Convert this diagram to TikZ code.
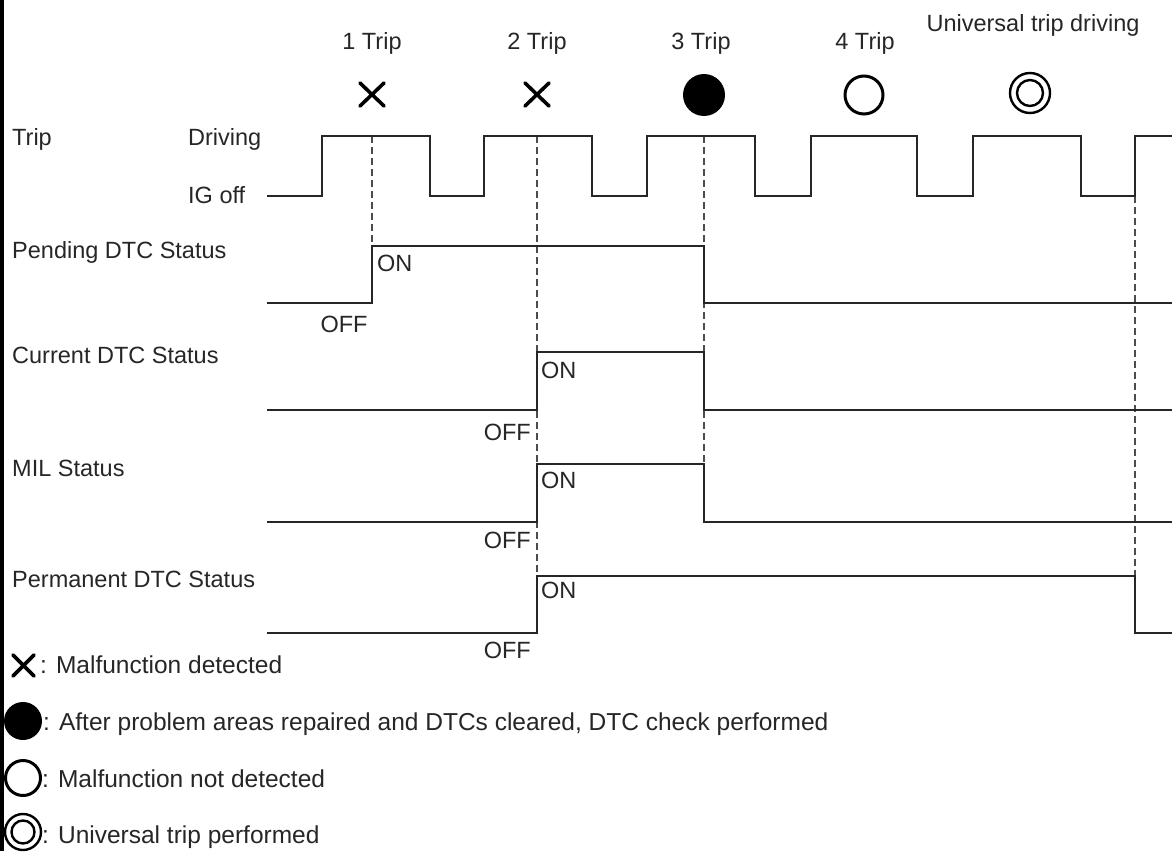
\documentclass[tikz,border=0pt]{standalone}
\usepackage{fontspec}
\setmainfont{Liberation Sans}
\begin{document}
\begin{tikzpicture}[x=1pt,y=-1pt,
  txt/.style={inner sep=0pt, font=\fontsize{23.5}{28}\selectfont, text=black!85},
  legtxt/.style={inner sep=0pt, font=\fontsize{24.5}{29}\selectfont, text=black!85},
  wave/.style={line width=2pt, draw=black!85, line join=miter},
  guide/.style={line width=1.6pt, draw=black!70, dash pattern=on 6.5pt off 4.5pt},
  sym/.style={line width=3.6pt, draw=black, line cap=round}]
\useasboundingbox (0,0) rectangle (1172,851);
\draw[line width=3.5pt] (1.75,0) -- (1.75,851);

% dashed guide lines
\draw[guide] (372,136) -- (372,246);
\draw[guide] (537,136) -- (537,576);
\draw[guide] (704,136) -- (704,521);
\draw[guide] (1135,196) -- (1135,576);

% trip waveform
\draw[wave] (267,196) -- (322,196) -- (322,136) -- (430,136) -- (430,196)
  -- (484,196) -- (484,136) -- (592,136) -- (592,196)
  -- (647,196) -- (647,136) -- (755,136) -- (755,196)
  -- (811,196) -- (811,136) -- (917,136) -- (917,196)
  -- (973,196) -- (973,136) -- (1081,136) -- (1081,196)
  -- (1135,196) -- (1135,136) -- (1172,136);

% status waveforms
\draw[wave] (267,303) -- (372,303) -- (372,246) -- (704,246) -- (704,303) -- (1172,303);
\draw[wave] (267,410) -- (537,410) -- (537,352) -- (704,352) -- (704,410) -- (1172,410);
\draw[wave] (267,522) -- (537,522) -- (537,464) -- (704,464) -- (704,522) -- (1172,522);
\draw[wave] (267,633) -- (537,633) -- (537,576) -- (1135,576) -- (1135,633) -- (1172,633);

% trip headings
\node[txt,anchor=base] (t1) at (372,50) {1 Trip};
\node[txt,anchor=base] (t2) at (537,50) {2 Trip};
\node[txt,anchor=base] (t3) at (701,50) {3 Trip};
\node[txt,anchor=base] (t4) at (865,50) {4 Trip};
\node[txt,anchor=base] (tu) at (1033,32) {Universal trip driving};

% trip symbols
\draw[sym] (360,83) -- (384,106) (360,106) -- (384,83);
\draw[sym] (525,83) -- (549,106) (525,106) -- (549,83);
\fill (704,95) circle[radius=21];
\draw[line width=3pt] (864,95) circle[radius=19];
\draw[line width=2.4pt] (1030,93) circle[radius=20] (1030,93) circle[radius=13];

% row labels
\node[txt,anchor=base west] (trip) at (12,145) {Trip};
\node[txt,anchor=base west] (driving) at (188,145) {Driving};
\node[txt,anchor=base west] (igoff) at (188,203) {IG off};
\node[txt,anchor=base west] (pend) at (12,258) {Pending DTC Status};
\node[txt,anchor=base west] (curr) at (12,363) {Current DTC Status};
\node[txt,anchor=base west] (mil) at (12,476) {MIL Status};
\node[txt,anchor=base west] (perm) at (12,587) {Permanent DTC Status};

% ON / OFF labels
\node[txt,anchor=base west] (pon) at (377,271) {ON};
\node[txt,anchor=base] (poff) at (344,332) {OFF};
\node[txt,anchor=base west] (con) at (541,378) {ON};
\node[txt,anchor=base east] (coff) at (531,440) {OFF};
\node[txt,anchor=base west] (mon) at (541,488) {ON};
\node[txt,anchor=base east] (moff) at (531,548) {OFF};
\node[txt,anchor=base west] (prmon) at (541,598) {ON};
\node[txt,anchor=base east] (prmoff) at (531,658) {OFF};

% legend
\draw[sym] (13,655) -- (34,676) (13,676) -- (34,655);
\node[legtxt,anchor=base west] (l1) at (40,673) {: Malfunction detected};
\fill (23,721) circle[radius=19];
\node[legtxt,anchor=base west] (l2) at (43,730) {: After problem areas repaired and DTCs cleared, DTC check performed};
\draw[line width=3pt] (23,778) circle[radius=17.5];
\node[legtxt,anchor=base west] (l3) at (42,787) {: Malfunction not detected};
\draw[line width=2.4pt] (23,832) circle[radius=18] (23,832) circle[radius=11.5];
\node[legtxt,anchor=base west] (l4) at (42,843) {: Universal trip performed};
\end{tikzpicture}
\end{document}
